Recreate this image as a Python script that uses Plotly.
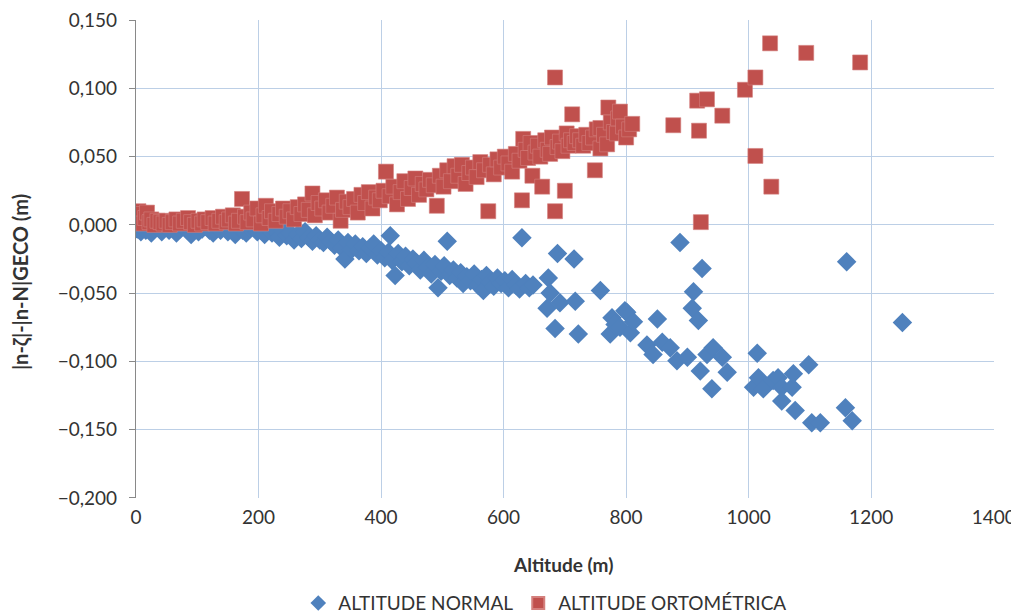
import plotly.graph_objects as go

# ALTITUDE NORMAL (blue diamonds)
normal_x = [2, 5, 8, 12, 16, 20, 25, 30, 36, 42, 48, 54, 60, 66, 72, 78, 84, 90, 96, 102,
            108, 114, 120, 126, 132, 138, 144, 150, 156, 162, 168, 174, 180, 186, 192, 198,
            204, 210, 216, 222, 228, 234, 240, 246, 252, 258, 264, 270, 276, 282, 288, 294,
            300, 306, 312, 318, 324, 330, 336, 341, 346, 352, 358, 364, 370, 376, 382, 388,
            394, 400, 406, 412, 415, 418, 423, 428, 434, 440, 446, 452, 458, 464, 470, 476,
            482, 488, 493, 498, 503, 508, 512, 518, 524, 530, 534, 540, 546, 552, 558, 564,
            567, 572, 578, 584, 590, 596, 602, 608, 614, 620, 626, 630, 636, 642, 648, 671,
            673, 676, 684, 688, 692, 715, 717, 722, 758, 774, 777, 782, 790, 798, 801, 807,
            812, 834, 844, 851, 859, 872, 883, 888, 900, 908, 910, 918, 921, 924, 932, 940,
            942, 957, 965, 1008, 1014, 1016, 1024, 1040, 1048, 1054, 1054, 1071, 1073, 1076,
            1098, 1103, 1117, 1158, 1160, 1169, 1251]
normal_y = [-0.003, -0.001, -0.005, -0.002, -0.004, -0.001, -0.006, -0.003, -0.002, -0.005,
            -0.001, -0.004, -0.002, -0.006, -0.003, -0.001, -0.004, -0.007, -0.002, -0.005,
            -0.003, -0.001, -0.004, -0.006, -0.002, -0.004, -0.001, -0.005, -0.003, -0.007,
            -0.002, -0.004, -0.006, -0.003, -0.001, -0.005, -0.004, -0.007, -0.003, -0.006,
            -0.005, -0.009, -0.004, -0.008, -0.006, -0.011, -0.007, -0.010, -0.005, -0.009,
            -0.012, -0.008, -0.011, -0.013, -0.009, -0.012, -0.015, -0.011, -0.017, -0.025,
            -0.013, -0.018, -0.014, -0.019, -0.016, -0.021, -0.017, -0.014, -0.022, -0.019,
            -0.024, -0.020, -0.008, -0.026, -0.037, -0.021, -0.027, -0.023, -0.030, -0.025,
            -0.028, -0.033, -0.026, -0.031, -0.036, -0.029, -0.046, -0.034, -0.030, -0.012,
            -0.037, -0.033, -0.039, -0.035, -0.043, -0.038, -0.041, -0.036, -0.044, -0.040,
            -0.048, -0.037, -0.042, -0.045, -0.039, -0.043, -0.041, -0.046, -0.040, -0.044,
            -0.047, -0.0095, -0.043, -0.046, -0.044, -0.061, -0.039, -0.050, -0.076, -0.021,
            -0.057, -0.025, -0.056, -0.080, -0.048, -0.080, -0.068, -0.073, -0.075, -0.063,
            -0.064, -0.079, -0.071, -0.088, -0.095, -0.069, -0.086, -0.090, -0.0995, -0.013,
            -0.097, -0.061, -0.049, -0.070, -0.107, -0.032, -0.095, -0.120, -0.090, -0.097,
            -0.108, -0.119, -0.094, -0.112, -0.120, -0.114, -0.112, -0.119, -0.129, -0.119,
            -0.109, -0.136, -0.1025, -0.145, -0.145, -0.134, -0.027, -0.1435, -0.0715]

# ALTITUDE ORTOMÉTRICA (red squares)
orto_x = [2, 4, 6, 8, 10, 12, 15, 18, 22, 25, 30, 35, 40, 45, 50, 55, 60, 66, 72, 78, 85,
          90, 96, 102, 108, 112, 118, 125, 130, 136, 142, 148, 152, 158, 163, 168, 173, 178,
          182, 188, 192, 198, 204, 208, 212, 218, 222, 228, 234, 240, 246, 252, 258, 264,
          270, 276, 282, 288, 292, 298, 304, 310, 316, 322, 328, 334, 338, 344, 350, 356,
          362, 368, 374, 380, 386, 392, 398, 404, 408, 414, 420, 426, 432, 438, 444, 450,
          456, 462, 468, 474, 480, 486, 491, 496, 502, 508, 514, 520, 526, 532, 538, 544,
          550, 556, 562, 568, 575, 578, 584, 590, 596, 602, 608, 614, 620, 626, 630, 632,
          636, 640, 644, 647, 652, 656, 660, 663, 668, 672, 676, 679, 684, 684, 688, 692,
          696, 700, 703, 706, 710, 712, 716, 720, 725, 730, 735, 740, 746, 749, 752, 758,
          758, 764, 769, 771, 775, 780, 785, 787, 790, 795, 800, 805, 810, 877, 916, 932,
          919, 922, 957, 994, 1011, 1011, 1037, 1035, 1094, 1182]
orto_y = [0.002, 0.010, 0.006, 0.003, 0.008, 0.001, 0.005, 0.009, 0.002, 0.004, 0.000,
          0.003, 0.002, 0.001, 0.003, 0.000, 0.002, 0.004, 0.001, 0.003, 0.005, 0.002,
          0.000, 0.003, 0.001, 0.004, 0.002, 0.005, 0.001, 0.003, 0.006, 0.002, 0.004,
          0.007, 0.001, 0.003, 0.019, 0.006, 0.002, 0.009, 0.004, 0.012, 0.001, 0.007,
          0.014, 0.005, 0.010, 0.003, 0.008, 0.012, 0.006, 0.010, 0.004, 0.013, 0.008,
          0.015, 0.011, 0.023, 0.007, 0.016, 0.012, 0.018, 0.009, 0.014, 0.020, 0.003,
          0.011, 0.017, 0.013, 0.019, 0.009, 0.022, 0.016, 0.024, 0.012, 0.020, 0.018,
          0.025, 0.039, 0.021, 0.028, 0.015, 0.024, 0.032, 0.019, 0.027, 0.034, 0.022,
          0.030, 0.026, 0.033, 0.029, 0.014, 0.036, 0.028, 0.040, 0.032, 0.043, 0.036,
          0.044, 0.030, 0.038, 0.042, 0.035, 0.046, 0.040, 0.010, 0.044, 0.037, 0.048,
          0.042, 0.050, 0.045, 0.039, 0.052, 0.047, 0.018, 0.063, 0.055, 0.049, 0.060,
          0.036, 0.053, 0.058, 0.050, 0.028, 0.062, 0.055, 0.052, 0.064, 0.108, 0.010,
          0.057, 0.061, 0.054, 0.025, 0.067, 0.058, 0.062, 0.081, 0.060, 0.065, 0.062,
          0.058, 0.066, 0.060, 0.064, 0.040, 0.070, 0.071, 0.056, 0.066, 0.059, 0.086,
          0.075, 0.068, 0.067, 0.078, 0.083, 0.072, 0.064, 0.070, 0.074, 0.073, 0.091,
          0.092, 0.069, 0.002, 0.080, 0.099, 0.108, 0.0505, 0.028, 0.133, 0.126, 0.119]

y_ticks = [-0.2, -0.15, -0.1, -0.05, 0.0, 0.05, 0.1, 0.15]
x_ticks = [0, 200, 400, 600, 800, 1000, 1200, 1400]

FONT = "Lato, 'Open Sans', sans-serif"
TXT = "#333333"
GRID = "#BCCFE6"

fig = go.Figure()
fig.add_trace(go.Scatter(
    x=normal_x, y=normal_y, mode="markers", name="ALTITUDE NORMAL",
    marker=dict(symbol="diamond", size=15, color="#4F81BD", line=dict(width=0)),
))
fig.add_trace(go.Scatter(
    x=orto_x, y=orto_y, mode="markers", name="ALTITUDE ORTOMÉTRICA",
    marker=dict(symbol="square", size=15, color="#C0504D", line=dict(width=0.6, color="#D4807D")),
))

# page body has an 8px margin, so the figure is 8px smaller and shifted margins
fig.update_layout(
    width=1011, height=606,
    margin=dict(l=128, r=25, t=12, b=116, autoexpand=False),
    paper_bgcolor="white", plot_bgcolor="white",
    separators=",.",
    font=dict(family=FONT, size=19, color=TXT),
    showlegend=True,
    legend=dict(orientation="h", x=0.477, xanchor="center", y=-0.22, yanchor="middle",
                font=dict(size=19, color=TXT), itemsizing="constant"),
    xaxis=dict(
        range=[0, 1400.5], tickmode="array", tickvals=x_ticks, automargin=False,
        showgrid=True, gridcolor=GRID, gridwidth=1.3,
        zeroline=False, showline=False, ticklabeloverflow="allow",
        ticks="", ticklabelstandoff=6, tickfont=dict(size=19, color=TXT),
    ),
    yaxis=dict(
        range=[-0.2001, 0.1501], tickmode="array", tickvals=y_ticks, tickformat=".3f",
        automargin=False, ticklabeloverflow="allow",
        showgrid=True, gridcolor=GRID, gridwidth=1.3,
        zeroline=False, showline=True, linecolor="#898989", linewidth=1.3,
        ticks="outside", ticklen=6, tickcolor="#898989", ticklabelstandoff=8,
        tickfont=dict(size=19, color=TXT),
    ),
    annotations=[
        dict(text="<b>Altitude (m)</b>", xref="paper", yref="paper", x=0.498, y=-0.14,
             xanchor="center", yanchor="middle", showarrow=False,
             font=dict(size=19, color=TXT)),
        dict(text="<b>|n-ζ|-|n-N|GECO (m)</b>", xref="paper", yref="paper", x=-0.135,
             y=0.452, xanchor="center", yanchor="middle", textangle=-90, showarrow=False,
             font=dict(size=20, color=TXT)),
    ],
)

fig.write_html("out.html")
